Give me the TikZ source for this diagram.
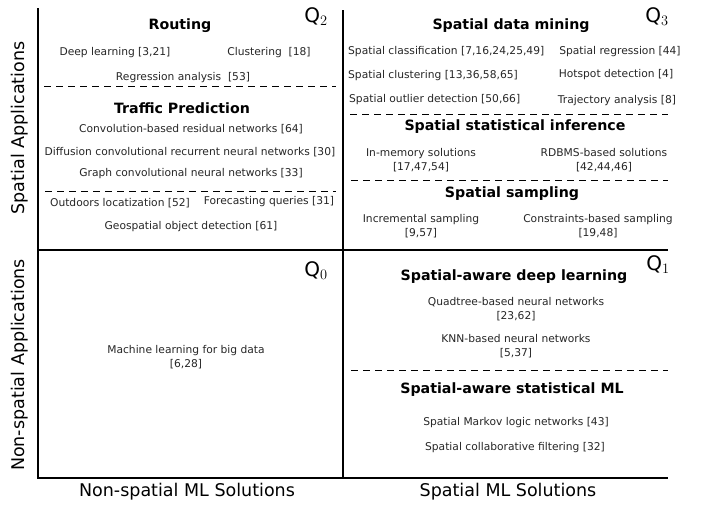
\documentclass[tikz,border=0pt]{standalone}
\usepackage{fontspec}
\setmainfont{DejaVu Sans}
\begin{document}
\begin{tikzpicture}[x=1pt,y=-1pt,
  txt/.style={font=\fontsize{10.7}{12.5}\selectfont, inner sep=0pt, align=center, text=black!85},
  head/.style={font=\fontsize{14.2}{15}\selectfont\bfseries, inner sep=0pt},
  axl/.style={font=\fontsize{17.5}{19}\selectfont, inner sep=0pt},
  ql/.style={font=\fontsize{20}{21}\selectfont, inner sep=0pt},
  frame/.style={line width=2.6pt},
  sep/.style={dashed, line width=0.8pt, dash pattern=on 7pt off 5pt}]
\useasboundingbox (0,0) rectangle (702,504);
% frame
\draw[frame] (38,8) -- (38,478) -- (668,478);
\draw[frame] (343,10) -- (343,478);
\draw[frame] (38,250) -- (668,250);
% axis labels
\node[axl, rotate=90] (ya) at (20,128) {Spatial Applications};
\node[axl, rotate=90] (yn) at (20,365) {Non-spatial Applications};
\node[axl] (xn) at (187,492) {Non-spatial ML Solutions};
\node[axl] (xs) at (508,492) {Spatial ML Solutions};
% quadrant labels
\node[ql] (q2) at (316,17) {$\mathrm{Q}_2$};
\node[ql] (q3) at (657,17) {$\mathrm{Q}_3$};
\node[ql] (q0) at (316,271) {$\mathrm{Q}_0$};
\node[ql] (q1) at (658,265) {$\mathrm{Q}_1$};
% Q2
\node[head] (rout) at (180,26) {Routing};
\node[txt] (dl) at (115,53) {Deep learning [3,21]};
\node[txt] (cl) at (269,53) {Clustering~ [18]};
\node[txt] (ra) at (183,78) {Regression analysis~ [53]};
\draw[sep] (44,86) -- (336,86);
\node[head] (tp) at (182,108) {Traffic Prediction};
\node[txt] (cbr) at (191,129) {Convolution-based residual networks [64]};
\node[txt] (dcr) at (190,152) {Diffusion convolutional recurrent neural networks [30]};
\node[txt] (gcn) at (191,174) {Graph convolutional neural networks [33]};
\draw[sep] (45,191) -- (336,191);
\node[txt] (ol) at (120,203) {Outdoors locatization [52]};
\node[txt] (fq) at (269,202) {Forecasting queries [31]};
\node[txt] (god) at (191,227) {Geospatial object detection [61]};
% Q3
\node[head] (sdm) at (511,26) {Spatial data mining};
\node[txt, anchor=west] (sc) at (348,52) {Spatial classification [7,16,24,25,49]};
\node[txt] (sr) at (620,52) {Spatial regression [44]};
\node[txt, anchor=west] (scl) at (348,76) {Spatial clustering [13,36,58,65]};
\node[txt] (hd) at (616,75) {Hotspot detection [4]};
\node[txt, anchor=west] (sod) at (349,100) {Spatial outlier detection [50,66]};
\node[txt] (ta) at (617,101) {Trajectory analysis [8]};
\draw[sep] (350,114) -- (668,114);
\node[head] (ssi) at (515,127) {Spatial statistical inference};
\node[txt] (ims) at (421,160) {In-memory solutions\\[1pt][17,47,54]};
\node[txt] (rdb) at (604,160) {RDBMS-based solutions\\[1pt][42,44,46]};
\draw[sep] (351,180) -- (668,180);
\node[head] (ss) at (512,194) {Spatial sampling};
\node[txt] (is) at (421,226) {Incremental sampling\\[1pt][9,57]};
\node[txt] (cbs) at (598,226) {Constraints-based sampling\\[1pt][19,48]};
% Q1
\node[head] (sadl) at (514,277) {Spatial-aware deep learning};
\node[txt] (qnn) at (516,309) {Quadtree-based neural networks\\[1pt][23,62]};
\node[txt] (knn) at (516,346) {KNN-based neural networks\\[1pt][5,37]};
\draw[sep] (351,370) -- (668,370);
\node[head] (sasml) at (512,390) {Spatial-aware statistical ML};
\node[txt] (sml) at (516,423) {Spatial Markov logic networks [43]};
\node[txt] (scf) at (515,448) {Spatial collaborative filtering [32]};
% Q0
\node[txt] (mlbd) at (186,357) {Machine learning for big data\\[1pt][6,28]};
\end{tikzpicture}
\end{document}
